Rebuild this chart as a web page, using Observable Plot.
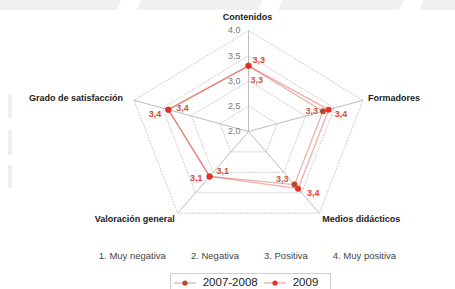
<!DOCTYPE html>
<html><head><meta charset="utf-8">
<script src="https://cdn.jsdelivr.net/npm/d3@7"></script>
<script src="https://cdn.jsdelivr.net/npm/@observablehq/plot@0.6"></script>
<style>
body{margin:0;background:#fff;font-family:"Liberation Sans",Arial,sans-serif;}
#wrap{position:relative;width:455px;height:289px;overflow:hidden;background:#fff;}
.topband{position:absolute;left:0;top:0;width:455px;height:10px;
  background:repeating-linear-gradient(115deg,#f0f0f0 0px,#f0f0f0 110px,#ffffff 110px,#ffffff 128px);}
.lbar{position:absolute;left:8px;width:4px;background:#efefef;}
#chart{position:relative;}
#scale{position:relative;text-align:center;font-size:9.5px;line-height:14px;color:#444;margin-top:9px;padding-left:40px;}
#scale span{margin:0 12.5px;}
#legend{position:relative;text-align:center;margin-top:9px;padding-left:46px;}
#legend .box{display:inline-block;border:1px solid #cfcfcf;padding:1px 6px 3px 3px;font-size:11.5px;color:#222;line-height:15px;}
#legend .item{display:inline-block;margin-right:6px;}
#legend svg{vertical-align:middle;margin-right:7px;}
</style></head>
<body><div id="wrap">
<div class="topband"></div>
<div class="lbar" style="top:95px;height:23px"></div>
<div class="lbar" style="top:130px;height:25px"></div>
<div class="lbar" style="top:165px;height:23px"></div>
<div id="chart"></div><div id="scale"></div><div id="legend"></div></div>
<script>
// ---- data ----
const axes = ["Contenidos", "Formadores", "Medios didácticos", "Valoración general", "Grado de satisfacción"];
const series = ["2007-2008", "2009"];
const values2007 = [3.3, 3.3, 3.3, 3.1, 3.4];
const values2009 = [3.3, 3.4, 3.4, 3.1, 3.4];
const tickValues = [2.0, 2.5, 3.0, 3.5, 4.0];
const tickLabels = ["2,0", "2,5", "3,0", "3,5", "4,0"];
const gridLevels = [2.5, 3.0, 3.5, 4.0];
const scaleNotes = ["1. Muy negativa", "2. Negativa", "3. Positiva", "4. Muy positiva"];

// ---- styles ----
const seriesColors = ["#b8492f", "#e8302a"];
const labelColors = ["#c9583b", "#e8402f"];
const font = "'Liberation Sans', Arial, sans-serif";
const axisLabelStyle = [
  {dx: -1, dy: -13, anchor: "middle"},
  {dx: 5, dy: -2, anchor: "start"},
  {dx: 3, dy: 6, anchor: "start"},
  {dx: -3, dy: 6, anchor: "end"},
  {dx: -11, dy: -2, anchor: "end"}
];
const valueLabelStyle = [
  [{dx: 2, dy: 14, anchor: "start"}, {dx: -5, dy: 0, anchor: "end"}, {dx: -6, dy: -6, anchor: "end"}, {dx: 7, dy: -5, anchor: "start"}, {dx: 8, dy: -2, anchor: "start"}],
  [{dx: 4, dy: -6, anchor: "start"}, {dx: 6, dy: 4, anchor: "start"}, {dx: 9, dy: 4, anchor: "start"}, {dx: -7, dy: 2, anchor: "end"}, {dx: -7, dy: 4, anchor: "end"}]
];

// ---- polar helpers ----
const N = axes.length;
const base = tickValues[0];
const ang = i => i * 2 * Math.PI / N;
const px = (v, i) => (v - base) * Math.sin(ang(i));
const py = (v, i) => (v - base) * Math.cos(ang(i));
const outer = tickValues[tickValues.length - 1];

const gridData = gridLevels.flatMap(l => d3.range(N + 1).map(k => ({level: l, x: px(l, k % N), y: py(l, k % N)})));
const spokeData = axes.map((a, i) => ({axis: a, x2: px(outer, i), y2: py(outer, i)}));
const allSeries = [values2007, values2009];
const pts = allSeries.flatMap((vals, s) => vals.map((v, i) => ({series: series[s], s, i, v, x: px(v, i), y: py(v, i)})));
const lineData = allSeries.flatMap((vals, s) => d3.range(N + 1).map(k => ({series: series[s], x: px(vals[k % N], k % N), y: py(vals[k % N], k % N)})));
const fmt = v => v.toFixed(1).replace(".", ",");

const marks = [
  Plot.line(gridData, {x: "x", y: "y", z: "level", stroke: "#c8c8c8", strokeWidth: 1, strokeDasharray: "1,2"}),
  Plot.link(spokeData, {x1: () => 0, y1: () => 0, x2: "x2", y2: "y2", stroke: "#bdbdbd", strokeWidth: 1}),
  Plot.line(lineData, {x: "x", y: "y", z: "series", stroke: "series", strokeOpacity: 0.4, strokeWidth: 1.3}),
  Plot.dot(pts, {x: "x", y: "y", fill: "series", r: 3}),
  Plot.text(tickValues.map((v, k) => ({v, label: tickLabels[k]})), {x: () => 0, y: d => d.v - base, text: "label", dx: -8, textAnchor: "end", fill: "#777", fontSize: 9})
];
axes.forEach((a, i) => {
  const st = axisLabelStyle[i];
  marks.push(Plot.text([spokeData[i]], {x: "x2", y: "y2", text: d => d.axis, dx: st.dx, dy: st.dy, textAnchor: st.anchor, fontWeight: "bold", fontSize: 9, fill: "#222"}));
});
pts.forEach(p => {
  const st = valueLabelStyle[p.s][p.i];
  marks.push(Plot.text([p], {x: "x", y: "y", text: d => fmt(d.v), dx: st.dx, dy: st.dy, textAnchor: st.anchor, fontSize: 9, fontWeight: "bold", fill: labelColors[p.s]}));
});

const cx = 248, sx = 60.2, cy = 131, sy = 50.5;
const chart = Plot.plot({
  width: 455, height: 240,
  x: {domain: [-2, 2], range: [cx - 2 * sx, cx + 2 * sx], axis: null},
  y: {domain: [-2, 2], range: [cy + 2 * sy, cy - 2 * sy], axis: null},
  color: {domain: series, range: seriesColors},
  style: {fontFamily: font, background: "transparent", overflow: "visible"},
  marks
});
document.getElementById("chart").appendChild(chart);

document.getElementById("scale").innerHTML = scaleNotes.map(t => `<span>${t}</span>`).join("");
document.getElementById("legend").innerHTML = `<div class="box">` + series.map((s, k) =>
  `<span class="item"><svg width="22" height="10"><line x1="0" y1="5" x2="22" y2="5" stroke="${seriesColors[k]}" stroke-opacity="0.4" stroke-width="1.3"/><circle cx="11" cy="5" r="2.6" fill="${seriesColors[k]}"/></svg>${s}</span>`).join("") + `</div>`;
</script>
</body></html>
